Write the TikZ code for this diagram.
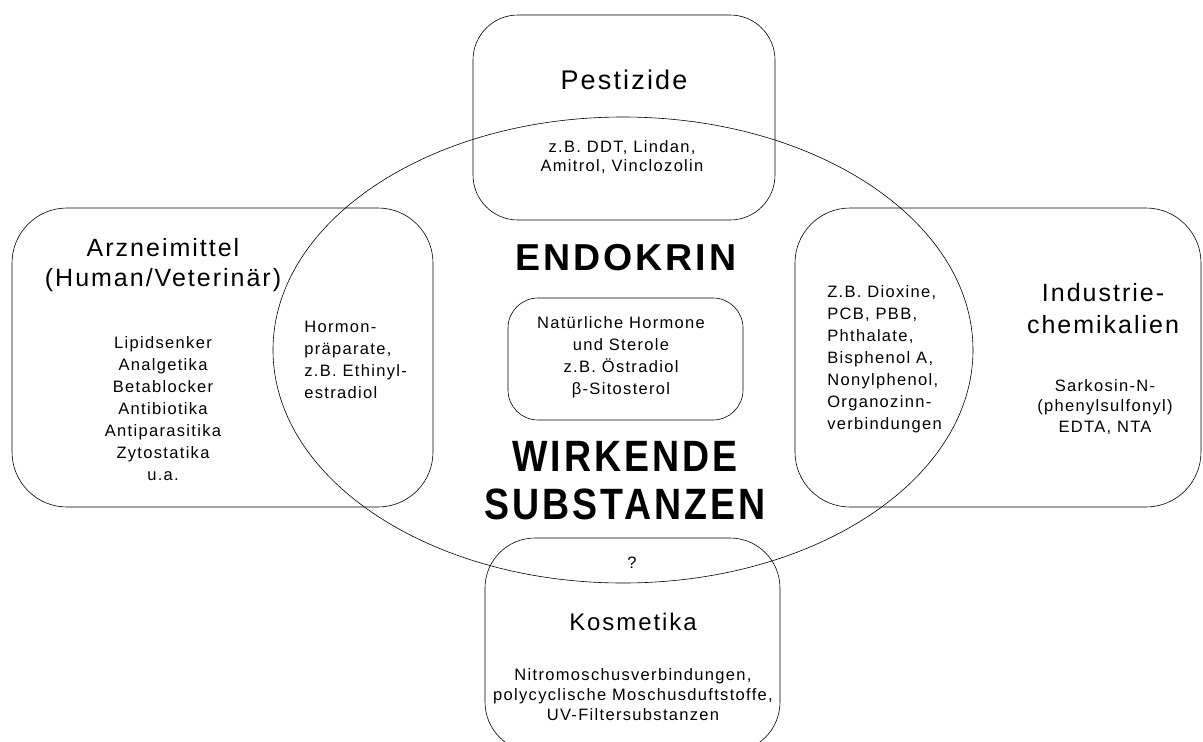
\documentclass[tikz,border=0pt]{standalone}
\usepackage{graphicx}
\usepackage{fontspec}
\setmainfont{Liberation Sans}[LetterSpace=8]
\usetikzlibrary{shapes.geometric}

\begin{document}
\begin{tikzpicture}[x=1pt,y=-1pt,line width=.6pt,
				roundbox/.style={draw, rectangle, rounded corners=50pt, inner sep=0pt}
				,headtxt/.style={font=\fontsize{25}{30}\selectfont, align=center, inner sep=0pt}
				,itemtxt/.style={font=\fontsize{16.5}{22}\selectfont, align=center, inner sep=0pt}
				,bigtxt/.style={font=\fontsize{37.5}{48}\selectfont\bfseries, align=center, inner sep=0pt}
				]
				\useasboundingbox (0,0) rectangle (1203,742);
				\clip (0,0) rectangle (1203,742);
				
				% Kaesten und Ellipse
				\node[roundbox, minimum width=302pt, minimum height=205pt, rounded corners=45pt] (pest) at (624,117.5) {};
				\node[roundbox, minimum width=421pt, minimum height=299pt, rounded corners=55pt] (arznei) at (222.5,357.5) {};
				\node[roundbox, minimum width=406pt, minimum height=299pt, rounded corners=55pt] (indu) at (998,357.5) {};
				\node[roundbox, minimum width=295pt, minimum height=214pt] (kosm) at (632.5,645) {};
				\node[roundbox, minimum width=235pt, minimum height=122pt, rounded corners=30pt] (natur) at (625.5,359) {};
				\node[draw, ellipse, minimum width=700pt, minimum height=466pt, inner sep=0pt] (endo) at (623,350) {};
				
				% Texte
				\node[headtxt, font=\fontsize{27}{32}\selectfont] (pesttitle) at (624,80) {Pestizide};
				\node[itemtxt, font=\fontsize{16.5}{19}\selectfont] (pestlist) at (622,157) {z.B. DDT, Lindan,\\Amitrol, Vinclozolin};
				\node[headtxt] (arztitle) at (163,265) {Arzneimittel\\(Human/Veterinär)};
				\node[itemtxt] (arzlist) at (163,409) {Lipidsenker\\Analgetika\\Betablocker\\Antibiotika\\Antiparasitika\\Zytostatika\\u.a.};
				\node[itemtxt, align=left, anchor=west] (hormon) at (304,360) {Hormon-\\präparate,\\z.B. Ethinyl-\\estradiol};
				\node[headtxt, font=\fontsize{25}{32}\selectfont] (indutitle) at (1103,309) {Industrie-\\chemikalien};
				\node[itemtxt, font=\fontsize{16.5}{20.5}\selectfont] (indulist) at (1105,407) {Sarkosin-N-\\(phenylsulfonyl)\\EDTA, NTA};
				\node[itemtxt, align=left, anchor=west] (dioxin) at (827,359) {Z.B. Dioxine,\\PCB, PBB,\\Phthalate,\\Bisphenol A,\\Nonylphenol,\\Organozinn-\\verbindungen};
				\node[bigtxt] (endotitle) at (626,258) {ENDOKRIN};
				\node[itemtxt] (naturlist) at (621,357) {Natürliche Hormone\\und Sterole\\z.B. Östradiol\\β-Sitosterol};
				\node[bigtxt] (wirk) at (625,481) {\scalebox{1}[1.17]{WIRKENDE}\\\scalebox{1}[1.17]{SUBSTANZEN}};
				\node[itemtxt] (frage) at (632,563) {?};
				\node[headtxt, font=\fontsize{24}{30}\selectfont] (kosmtitle) at (633,622) {Kosmetika};
				\node[itemtxt, font=\fontsize{16.5}{20}\selectfont] (kosmlist) at (633,695) {Nitromoschusverbindungen,\\polycyclische Moschusduftstoffe,\\UV-Filtersubstanzen};
			\end{tikzpicture}
\end{document}
